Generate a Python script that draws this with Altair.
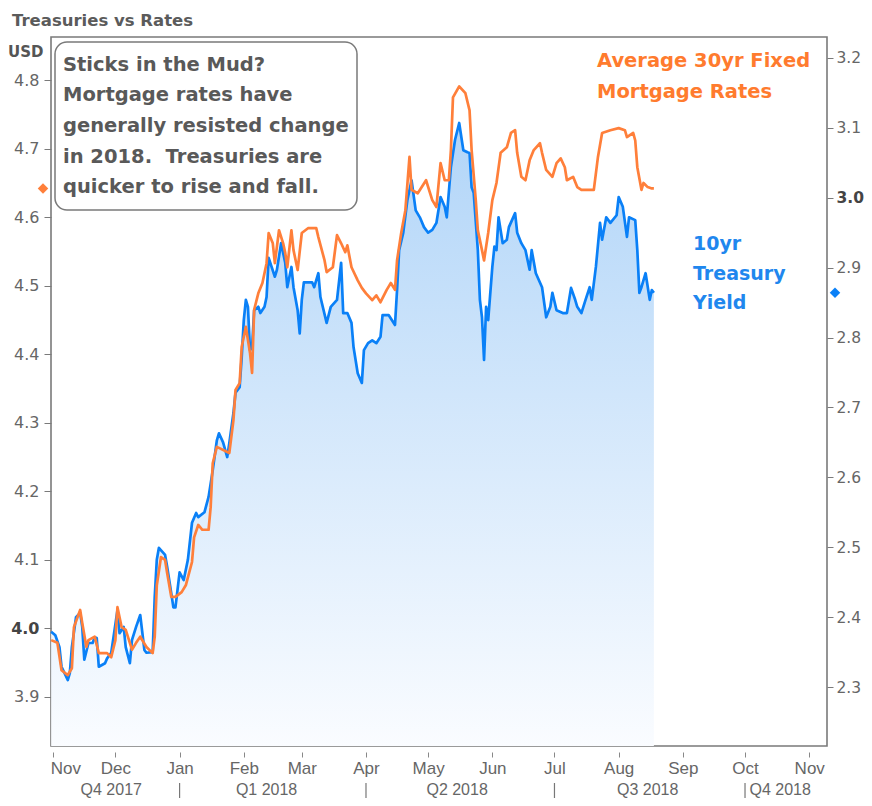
import altair as alt
import pandas as pd

# ---------------- data ----------------
TREASURY_DATES = [
    "2017-10-31", "2017-11-02", "2017-11-04", "2017-11-05", "2017-11-08", "2017-11-09", "2017-11-10", "2017-11-12", "2017-11-14", "2017-11-15",
    "2017-11-16", "2017-11-18", "2017-11-20", "2017-11-21", "2017-11-22", "2017-11-23", "2017-11-26", "2017-11-27", "2017-11-29", "2017-12-02",
    "2017-12-03", "2017-12-05", "2017-12-06", "2017-12-08", "2017-12-09", "2017-12-11", "2017-12-13", "2017-12-15", "2017-12-16", "2017-12-19",
    "2017-12-20", "2017-12-21", "2017-12-22", "2017-12-25", "2017-12-26", "2017-12-28", "2017-12-29", "2017-12-30", "2018-01-01", "2018-01-03",
    "2018-01-05", "2018-01-07", "2018-01-09", "2018-01-10", "2018-01-13", "2018-01-15", "2018-01-17", "2018-01-19", "2018-01-20", "2018-01-22",
    "2018-01-24", "2018-01-25", "2018-01-27", "2018-01-28", "2018-01-30", "2018-01-31", "2018-02-01", "2018-02-02", "2018-02-03", "2018-02-04",
    "2018-02-05", "2018-02-06", "2018-02-08", "2018-02-09", "2018-02-11", "2018-02-12", "2018-02-13", "2018-02-16", "2018-02-17", "2018-02-19",
    "2018-02-21", "2018-02-22", "2018-02-24", "2018-02-25", "2018-02-27", "2018-02-28", "2018-03-01", "2018-03-02", "2018-03-06", "2018-03-07",
    "2018-03-09", "2018-03-10", "2018-03-13", "2018-03-15", "2018-03-18", "2018-03-20", "2018-03-21", "2018-03-23", "2018-03-25", "2018-03-26",
    "2018-03-28", "2018-03-30", "2018-03-31", "2018-04-02", "2018-04-04", "2018-04-06", "2018-04-08", "2018-04-09", "2018-04-12", "2018-04-15",
    "2018-04-16", "2018-04-17", "2018-04-19", "2018-04-21", "2018-04-23", "2018-04-25", "2018-04-27", "2018-04-29", "2018-05-01", "2018-05-03",
    "2018-05-05", "2018-05-07", "2018-05-09", "2018-05-10", "2018-05-12", "2018-05-14", "2018-05-16", "2018-05-18", "2018-05-20", "2018-05-21",
    "2018-05-22", "2018-05-23", "2018-05-25", "2018-05-26", "2018-05-27", "2018-05-28", "2018-05-29", "2018-05-30", "2018-06-01", "2018-06-02",
    "2018-06-03", "2018-06-04", "2018-06-06", "2018-06-08", "2018-06-09", "2018-06-12", "2018-06-13", "2018-06-15", "2018-06-17", "2018-06-19",
    "2018-06-20", "2018-06-22", "2018-06-25", "2018-06-27", "2018-06-29", "2018-06-30", "2018-07-02", "2018-07-05", "2018-07-07", "2018-07-09",
    "2018-07-11", "2018-07-12", "2018-07-14", "2018-07-16", "2018-07-18", "2018-07-19", "2018-07-21", "2018-07-23", "2018-07-24", "2018-07-26",
    "2018-07-28", "2018-07-31", "2018-08-01", "2018-08-03", "2018-08-05", "2018-08-06", "2018-08-09", "2018-08-10", "2018-08-11", "2018-08-12",
    "2018-08-14", "2018-08-16", "2018-08-17", "2018-08-18",
]
TREASURY_YIELD = [
    2.379, 2.374, 2.357, 2.329, 2.310, 2.320, 2.357, 2.400, 2.406, 2.386,
    2.339, 2.363, 2.363, 2.371, 2.370, 2.329, 2.334, 2.341, 2.349, 2.410,
    2.377, 2.386, 2.357, 2.334, 2.367, 2.386, 2.403, 2.353, 2.349, 2.350,
    2.429, 2.482, 2.499, 2.489, 2.472, 2.434, 2.414, 2.414, 2.464, 2.453,
    2.482, 2.535, 2.549, 2.543, 2.550, 2.572, 2.610, 2.653, 2.663, 2.650,
    2.629, 2.649, 2.692, 2.721, 2.729, 2.772, 2.825, 2.854, 2.844, 2.782,
    2.786, 2.839, 2.844, 2.835, 2.844, 2.858, 2.914, 2.887, 2.897, 2.935,
    2.907, 2.872, 2.901, 2.872, 2.839, 2.806, 2.854, 2.879, 2.879, 2.872,
    2.892, 2.858, 2.821, 2.844, 2.854, 2.907, 2.835, 2.835, 2.821, 2.786,
    2.749, 2.735, 2.782, 2.792, 2.796, 2.792, 2.801, 2.832, 2.832, 2.818,
    2.868, 2.925, 2.950, 2.997, 3.025, 2.982, 2.972, 2.958, 2.950, 2.954,
    2.964, 3.001, 2.987, 2.972, 3.044, 3.083, 3.107, 3.068, 3.065, 3.064,
    3.015, 3.007, 2.925, 2.854, 2.829, 2.768, 2.844, 2.825, 2.901, 2.930,
    2.925, 2.972, 2.935, 2.940, 2.958, 2.978, 2.950, 2.935, 2.925, 2.897,
    2.925, 2.892, 2.872, 2.829, 2.844, 2.864, 2.839, 2.835, 2.835, 2.871,
    2.854, 2.844, 2.835, 2.854, 2.872, 2.854, 2.901, 2.964, 2.940, 2.972,
    2.964, 2.975, 3.001, 2.987, 2.944, 2.972, 2.968, 2.925, 2.864, 2.872,
    2.892, 2.854, 2.868, 2.864,
]

MORTGAGE_DATES = [
    "2017-10-31", "2017-11-03", "2017-11-05", "2017-11-08", "2017-11-10", "2017-11-11", "2017-11-14", "2017-11-15", "2017-11-17", "2017-11-18",
    "2017-11-21", "2017-11-23", "2017-11-27", "2017-11-29", "2017-12-01", "2017-12-02", "2017-12-04", "2017-12-06", "2017-12-09", "2017-12-11",
    "2017-12-13", "2017-12-16", "2017-12-19", "2017-12-20", "2017-12-21", "2017-12-23", "2017-12-25", "2017-12-26", "2017-12-28", "2017-12-30",
    "2018-01-02", "2018-01-04", "2018-01-07", "2018-01-08", "2018-01-10", "2018-01-12", "2018-01-15", "2018-01-16", "2018-01-17", "2018-01-19",
    "2018-01-25", "2018-01-27", "2018-01-28", "2018-01-30", "2018-01-31", "2018-02-02", "2018-02-04", "2018-02-05", "2018-02-06", "2018-02-08",
    "2018-02-10", "2018-02-12", "2018-02-13", "2018-02-15", "2018-02-16", "2018-02-18", "2018-02-20", "2018-02-21", "2018-02-22", "2018-02-24",
    "2018-02-25", "2018-02-27", "2018-03-01", "2018-03-04", "2018-03-08", "2018-03-09", "2018-03-12", "2018-03-13", "2018-03-16", "2018-03-18",
    "2018-03-20", "2018-03-22", "2018-03-23", "2018-03-25", "2018-03-28", "2018-03-30", "2018-04-01", "2018-04-04", "2018-04-06", "2018-04-08",
    "2018-04-11", "2018-04-13", "2018-04-15", "2018-04-16", "2018-04-18", "2018-04-20", "2018-04-22", "2018-04-23", "2018-04-26", "2018-04-30",
    "2018-05-03", "2018-05-05", "2018-05-07", "2018-05-09", "2018-05-11", "2018-05-12", "2018-05-13", "2018-05-16", "2018-05-19", "2018-05-21",
    "2018-05-22", "2018-05-24", "2018-05-25", "2018-05-27", "2018-05-28", "2018-05-30", "2018-06-01", "2018-06-03", "2018-06-05", "2018-06-08",
    "2018-06-10", "2018-06-12", "2018-06-13", "2018-06-15", "2018-06-17", "2018-06-19", "2018-06-21", "2018-06-24", "2018-06-25", "2018-06-27",
    "2018-06-30", "2018-07-02", "2018-07-04", "2018-07-06", "2018-07-07", "2018-07-10", "2018-07-12", "2018-07-14", "2018-07-18", "2018-07-20",
    "2018-07-22", "2018-07-24", "2018-07-28", "2018-08-01", "2018-08-04", "2018-08-05", "2018-08-08", "2018-08-09", "2018-08-10", "2018-08-12",
    "2018-08-13", "2018-08-15", "2018-08-17", "2018-08-18",
]
MORTGAGE_RATE = [
    3.983, 3.979, 3.939, 3.932, 3.942, 4.002, 4.027, 4.008, 3.973, 3.983,
    3.988, 3.964, 3.964, 3.958, 3.983, 4.031, 4.002, 3.998, 3.969, 3.979,
    3.988, 3.973, 3.964, 3.988, 4.063, 4.104, 4.100, 4.081, 4.046, 4.046,
    4.053, 4.063, 4.097, 4.133, 4.151, 4.144, 4.144, 4.177, 4.241, 4.265,
    4.256, 4.304, 4.348, 4.358, 4.411, 4.440, 4.402, 4.373, 4.465, 4.489,
    4.504, 4.533, 4.577, 4.562, 4.533, 4.581, 4.562, 4.548, 4.527, 4.581,
    4.552, 4.523, 4.577, 4.584, 4.584, 4.571, 4.537, 4.520, 4.527, 4.574,
    4.562, 4.549, 4.559, 4.527, 4.508, 4.497, 4.489, 4.479, 4.486, 4.476,
    4.494, 4.504, 4.494, 4.537, 4.577, 4.610, 4.688, 4.640, 4.635, 4.654,
    4.625, 4.615, 4.679, 4.654, 4.654, 4.698, 4.775, 4.791, 4.781, 4.756,
    4.698, 4.625, 4.581, 4.552, 4.537, 4.577, 4.625, 4.650, 4.694, 4.702,
    4.723, 4.727, 4.694, 4.659, 4.654, 4.683, 4.698, 4.708, 4.694, 4.669,
    4.659, 4.679, 4.686, 4.673, 4.654, 4.659, 4.644, 4.640, 4.640, 4.640,
    4.688, 4.723, 4.727, 4.730, 4.727, 4.717, 4.723, 4.712, 4.673, 4.640,
    4.650, 4.644, 4.642, 4.642,
]

MONTH_TICKS = [
    "2017-11-01", "2017-12-01", "2018-01-01", "2018-02-01", "2018-03-01", "2018-04-01", "2018-05-01",
    "2018-06-01", "2018-07-01", "2018-08-01", "2018-09-01", "2018-10-01", "2018-11-01",
]
QUARTER_LABELS = ["Q4 2017", "Q1 2018", "Q2 2018", "Q3 2018", "Q4 2018"]
QUARTER_LABEL_DATES = ["2017-11-29", "2018-02-12", "2018-05-15", "2018-08-15", "2018-10-18"]
QUARTER_BOUNDS = ["2018-01-01", "2018-04-01", "2018-07-01", "2018-10-01"]

MORTGAGE_TICKS = [3.9, 4.0, 4.1, 4.2, 4.3, 4.4, 4.5, 4.6, 4.7, 4.8]
TREASURY_TICKS = [2.3, 2.4, 2.5, 2.6, 2.7, 2.8, 2.9, 3.0, 3.1, 3.2]
MORTGAGE_DOMAIN = [3.8285, 4.863]
TREASURY_DOMAIN = [2.2156, 3.230]

TITLE = "Treasuries vs Rates"
UNIT = "USD"
NOTE_LINES = [
    "Sticks in the Mud?",
    "Mortgage rates have",
    "generally resisted change",
    "in 2018.\u00a0 Treasuries are",
    "quicker to rise and fall.",
]
MORTGAGE_LABEL = ["Average 30yr Fixed", "Mortgage Rates"]
TREASURY_LABEL = ["10yr", "Treasury", "Yield"]

# ---------------- style ----------------
W, H = 776, 709
BLUE = "#0A80F7"
BLUE_TXT = "#1F87EE"
ORANGE = "#FF7F3A"
ORANGE_TXT = "#FF7B2E"
NOTE_TXT = "#595959"
AXIS_TXT = "#666666"
FRAME = "#7a7a7a"
FONT = "DejaVu Sans"
AXIS_FONT = "Liberation Sans"


def dt(s, hours=0):
    y, m, d = (int(p) for p in s.split("-"))
    return alt.DateTime(year=y, month=m, date=d, hours=hours, utc=True)


x_scale = alt.Scale(type="utc", domain=[dt("2017-10-30", 22), dt("2018-11-09", 14)])
x_axis = alt.Axis(
    values=[dt(s) for s in MONTH_TICKS],
    labelExpr="utcFormat(datum.value, '%b')",
    domain=False, grid=False, offset=6, tickSize=5, tickColor="#888888",
    labelFont=AXIS_FONT, labelFontSize=17, labelColor=AXIS_TXT, labelPadding=3,
    labelFlush=10, labelFlushOffset=3, title=None,
)
X = alt.X("date:T", scale=x_scale, axis=x_axis, title=None)


def y_axis(orient, values, bold_value, pad, tick, size):
    return alt.Axis(
        orient=orient, values=values, format=".1f", domain=False, grid=False,
        tickSize=tick, tickColor="#7a7a7a", labelPadding=pad,
        labelFont=FONT, labelFontSize=size,
        labelColor={"condition": {"test": f"datum.value == {bold_value}", "value": "#444444"}, "value": AXIS_TXT},
        labelFontWeight={"condition": {"test": f"datum.value == {bold_value}", "value": "bold"}, "value": "normal"},
        title=None,
    )


Y_BLUE = alt.Y("treasury:Q", scale=alt.Scale(domain=TREASURY_DOMAIN, zero=False, nice=False),
               axis=y_axis("right", TREASURY_TICKS, 3, 3, 6, 15.5), title=None)
Y_ORANGE = alt.Y("mortgage:Q", scale=alt.Scale(domain=MORTGAGE_DOMAIN, zero=False, nice=False),
                 axis=y_axis("left", MORTGAGE_TICKS, 4, 5, 7, 16), title=None)

blue_df = pd.DataFrame({"date": TREASURY_DATES, "treasury": TREASURY_YIELD})
orange_df = pd.DataFrame({"date": MORTGAGE_DATES, "mortgage": MORTGAGE_RATE})

gradient = alt.Gradient(
    gradient="linear",
    stops=[alt.GradientStop(offset=0, color="#B1D5F8"), alt.GradientStop(offset=1, color="#FAFCFF")],
    x1=1, x2=1, y1=0, y2=1,
)

area = alt.Chart(blue_df).mark_area(color=gradient).encode(
    x=X, y=Y_BLUE, y2=alt.datum(TREASURY_DOMAIN[0])
)
blue_line = alt.Chart(blue_df).mark_line(color=BLUE, strokeWidth=2.7, strokeJoin="round").encode(x=X, y=Y_BLUE)
blue_last = alt.Chart(pd.DataFrame({"treasury": [TREASURY_YIELD[-1]]})).mark_point(
    shape="diamond", filled=True, size=110, color=BLUE, opacity=1
).encode(x=alt.value(W + 8), y=Y_BLUE)
blue_group = alt.layer(area, blue_line, blue_last)

orange_line = alt.Chart(orange_df).mark_line(color=ORANGE, strokeWidth=2.7, strokeJoin="round").encode(x=X, y=Y_ORANGE)
orange_last = alt.Chart(pd.DataFrame({"mortgage": [MORTGAGE_RATE[-1]]})).mark_point(
    shape="diamond", filled=True, size=110, color=ORANGE, opacity=1
).encode(x=alt.value(-8), y=Y_ORANGE)
orange_group = alt.layer(orange_line, orange_last)

quarter_text = alt.Chart(pd.DataFrame({"date": QUARTER_LABEL_DATES, "label": QUARTER_LABELS})).mark_text(
    font=AXIS_FONT, fontSize=16, color=AXIS_TXT, baseline="alphabetic", align="center"
).encode(x=X, y=alt.value(758), text="label:N")
quarter_rules = alt.Chart(pd.DataFrame({"date": QUARTER_BOUNDS})).mark_rule(
    color="#777777", strokeWidth=1.2
).encode(x=X, y=alt.value(746), y2=alt.value(762))

one = pd.DataFrame({"k": [0]})


def text_layer(text, x, y, color, size, line_height=None, weight="bold"):
    kw = dict(text=text, font=FONT, fontSize=size, fontWeight=weight, color=color,
              align="left", baseline="alphabetic")
    if line_height:
        kw["lineHeight"] = line_height
    return alt.Chart(one).mark_text(**kw).encode(x=alt.value(x), y=alt.value(y))


note_box = alt.Chart(one).mark_rect(
    cornerRadius=12, fill="white", stroke="#7a7a7a", strokeWidth=1.5
).encode(x=alt.value(4), x2=alt.value(306), y=alt.value(5), y2=alt.value(173))

title = text_layer(TITLE, -39, -11.5, "#5b5b5b", 16.5)
unit = text_layer(UNIT, -43, 19.5, "#555555", 15)
note = text_layer(NOTE_LINES, 12, 33.5, NOTE_TXT, 19.5, line_height=30.7)
mort_lbl = text_layer(MORTGAGE_LABEL, 546, 29.5, ORANGE_TXT, 19.5, line_height=31.6)
tsy_lbl = text_layer(TREASURY_LABEL, 642, 213, BLUE_TXT, 19, line_height=29.6)

chart = alt.layer(
    blue_group, orange_group, quarter_rules, quarter_text,
    note_box, note, title, unit, mort_lbl, tsy_lbl,
).resolve_scale(y="independent").properties(
    width=W, height=H,
    autosize=alt.AutoSizeParams(type="none"),
    padding={"left": 43, "right": 37, "top": 29, "bottom": 52},
).configure_view(stroke=FRAME, strokeWidth=1.6)

chart.save("out.html", embed_options={"renderer": "svg", "actions": False})
